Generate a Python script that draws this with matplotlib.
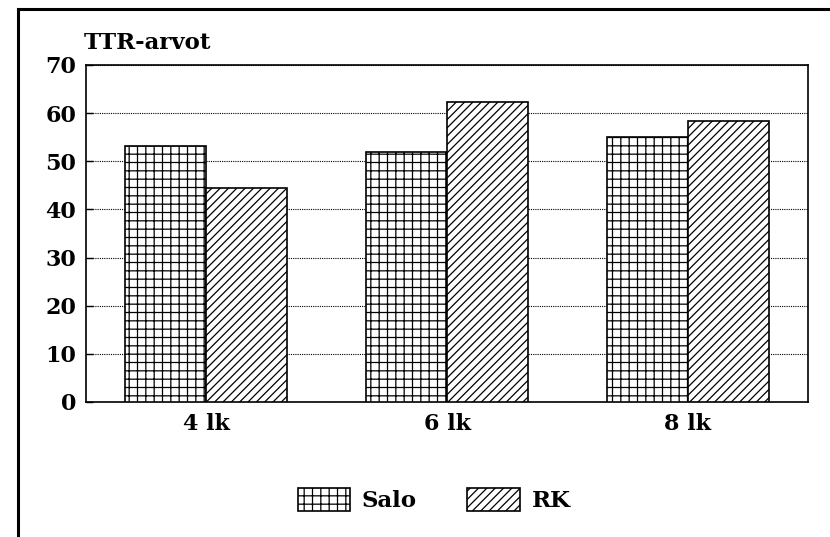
import matplotlib.pyplot as plt
import numpy as np
from matplotlib.lines import Line2D

# TTR values per text length
groups = ['4 lk', '6 lk', '8 lk']
salo = [53.1, 51.9, 55.1]
rk = [44.5, 62.3, 58.4]
y_ticks = [0, 10, 20, 30, 40, 50, 60, 70]

plt.rcParams['font.family'] = ['DejaVu Serif']
plt.rcParams['font.weight'] = 'bold'
plt.rcParams['hatch.linewidth'] = 0.9
plt.rcParams['hatch.color'] = 'black'

fig = plt.figure(figsize=(8.3, 5.37), dpi=100)
ax = fig.add_axes([0.1036, 0.2514, 0.870, 0.6276])

x = np.arange(len(groups))
w = 0.336
ax.bar(x - w / 2, salo, w, facecolor='white', edgecolor='black',
       linewidth=1.2, hatch='++', label='Salo', zorder=3)
ax.bar(x + w / 2, rk, w, facecolor='white', edgecolor='black',
       linewidth=1.2, hatch='////', label='RK', zorder=3)

ax.set_xlim(-0.5, 2.5)
ax.set_ylim(0, 70)
ax.set_yticks(y_ticks)
ax.set_xticks(x)
ax.set_xticklabels(groups)
ax.tick_params(axis='y', direction='in', length=5, width=1, pad=7, labelsize=16)
ax.tick_params(axis='x', length=0, pad=8, labelsize=16)

ax.yaxis.grid(True, linestyle=(0, (1, 1)), color='black', linewidth=0.8, zorder=0)
ax.set_axisbelow(True)
for sp in ax.spines.values():
    sp.set_linewidth(1.2)

fig.text(84 / 830, 1 - 43 / 537, 'TTR-arvot', fontsize=16.5, va='center', ha='left')

fig.legend(loc='center', bbox_to_anchor=(434 / 830, 1 - 500 / 537), ncol=2, frameon=False,
           fontsize=16.5, handlelength=2.3, handleheight=1.15, columnspacing=2.2,
           handletextpad=0.5)

# page frame, top and left edges
fig.add_artist(Line2D([18 / 830, 1], [1 - 9 / 537, 1 - 9 / 537], color='black', linewidth=2.2))
fig.add_artist(Line2D([18 / 830, 18 / 830], [0, 1 - 9 / 537], color='black', linewidth=2.2))

fig.savefig('out.png', dpi=100)
